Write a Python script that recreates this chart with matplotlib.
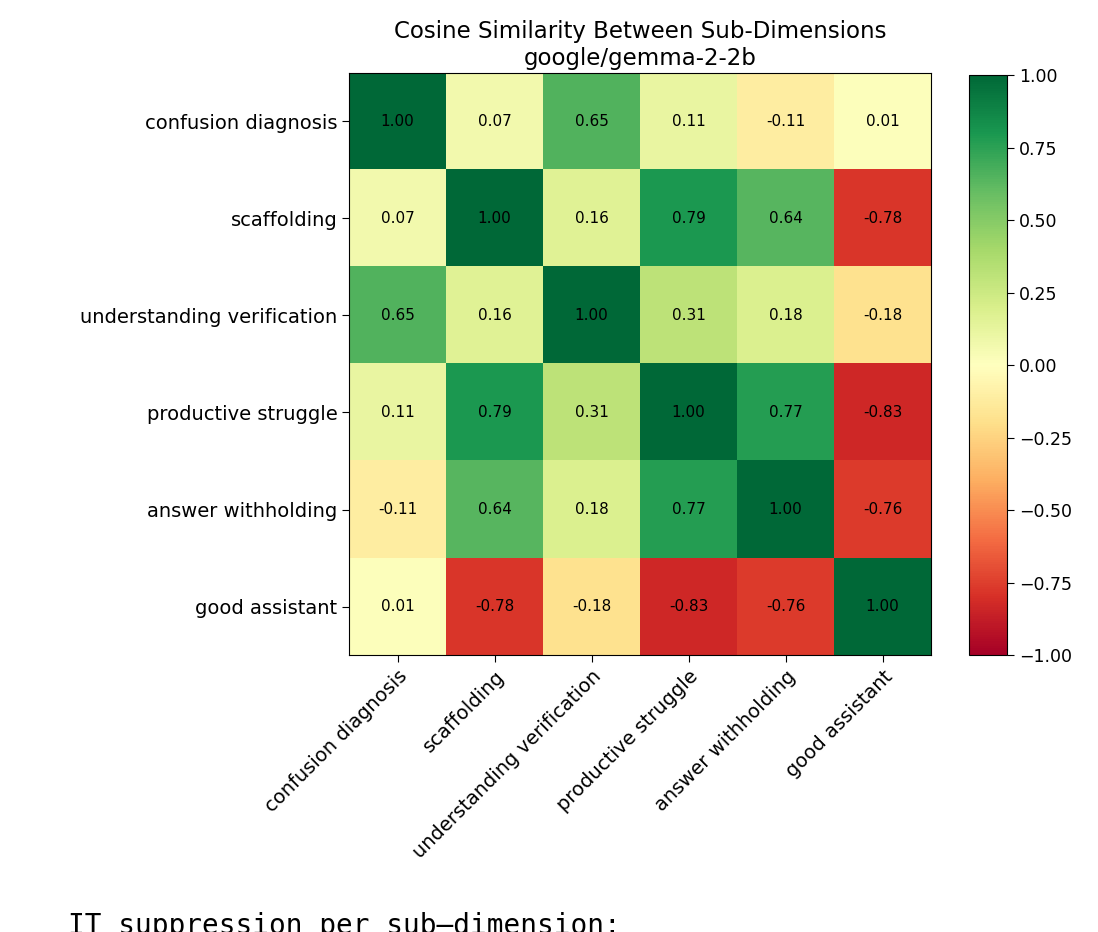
import numpy as np
import matplotlib
matplotlib.use("Agg")
import matplotlib.pyplot as plt

# nomes das sub-dimensões
dims = ["confusion diagnosis", "scaffolding", "understanding verification",
        "productive struggle", "answer withholding", "good assistant"]

# matriz de similaridade
sim = np.array([
    [1.00, 0.07, 0.65, 0.11, -0.11, 0.01],
    [0.07, 1.00, 0.16, 0.79, 0.64, -0.78],
    [0.65, 0.16, 1.00, 0.31, 0.18, -0.18],
    [0.11, 0.79, 0.31, 1.00, 0.77, -0.83],
    [-0.11, 0.64, 0.18, 0.77, 1.00, -0.76],
    [0.01, -0.78, -0.18, -0.83, -0.76, 1.00],
])

cbar_ticks = [-1.00, -0.75, -0.50, -0.25, 0.00, 0.25, 0.50, 0.75, 1.00]

fig = plt.figure(figsize=(10.98, 9.32), dpi=100)
ax = fig.add_axes([0.318, 0.2972, 0.530, 0.6245])
cax = fig.add_axes([0.8825, 0.2972, 0.0346, 0.6223])

im = ax.imshow(sim, cmap="RdYlGn", vmin=-1, vmax=1, aspect="auto")

for i in range(len(dims)):
    for j in range(len(dims)):
        ax.text(j, i, "{0:.2f}".format(sim[i, j]), ha="center", va="center",
                color="black", fontsize=11)

ax.set_xticks(range(len(dims)))
ax.set_yticks(range(len(dims)))
ax.set_xticklabels(dims, rotation=45, ha="right", rotation_mode="anchor", fontsize=14)
ax.set_yticklabels(dims, fontsize=14)
ax.tick_params(length=5)
ax.set_title("Cosine Similarity Between Sub-Dimensions\ngoogle/gemma-2-2b", fontsize=16.5)

cb = fig.colorbar(im, cax=cax)
cb.set_ticks(cbar_ticks)
cb.ax.set_yticklabels(["{0:.2f}".format(t).replace("-", "\u2212") for t in cbar_ticks])
cb.ax.tick_params(labelsize=12.5, length=5)

# texto de saída do notebook, cortado em baixo
fig.text(68 / 1098, 1 - 912 / 932, "IT suppression per sub\u2013dimension:",
         family="DejaVu Sans Mono", fontsize=20, ha="left", va="top")

fig.savefig("out.png", dpi=100)
